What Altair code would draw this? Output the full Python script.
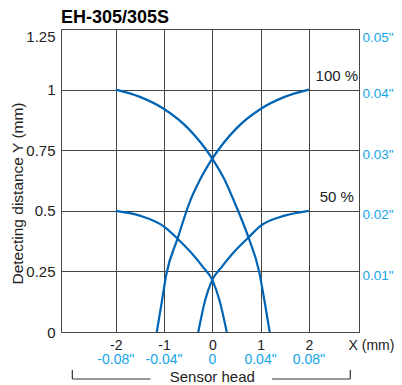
import altair as alt
import pandas as pd

# ---------------- data (mm) ----------------
# 100 % curves
d100_x = [-2.0, -1.5, -1.0, -0.5, 0.0, 0.25, 0.45, 0.75, 0.97, 1.08, 1.19]
d100_y = [1.0, 0.97, 0.92, 0.84, 0.715, 0.63, 0.54, 0.39, 0.25, 0.13, 0.0]
a100_x = [-1.15, -1.05, -0.95, -0.72, -0.46, -0.25, 0.0, 0.5, 1.0, 1.5, 2.0]
a100_y = [0.0, 0.12, 0.24, 0.385, 0.54, 0.63, 0.715, 0.84, 0.92, 0.97, 1.0]
# 50 % curves
d50_x = [-2.0, -1.5, -1.0, -0.72, -0.45, -0.2, 0.0, 0.15, 0.3]
d50_y = [0.5, 0.48, 0.435, 0.385, 0.33, 0.27, 0.215, 0.13, 0.0]
a50_x = [-0.29, -0.15, 0.0, 0.2, 0.45, 0.75, 1.0, 1.5, 2.0]
a50_y = [0.0, 0.13, 0.215, 0.27, 0.33, 0.39, 0.438, 0.48, 0.5]

# curve end labels (anchored at curve end points)
lab_text = ["100 %", "50 %"]
lab_x = [2.0, 2.0]
lab_y = [1.0, 0.5]

# ticks and tick labels
x_ticks = [-2, -1, 0, 1, 2]
x_inch = ['-0.08"', '-0.04"', '0', '0.04"', '0.08"']
y_ticks = [0, 0.25, 0.5, 0.75, 1, 1.25]
y_inch_ticks = [0.25, 0.5, 0.75, 1.0, 1.25]
y_inch = ['0.01"', '0.02"', '0.03"', '0.04"', '0.05"']

# sensor head bracket (x extents in mm)
bracket_start = [-2.9, 1.24]
bracket_end = [-1.28, 2.86]
bracket_ends = [-2.9, 2.86]

# ---------------- tables ----------------
rows = []
for name, xs, ys in [("d100", d100_x, d100_y), ("a100", a100_x, a100_y),
                     ("d50", d50_x, d50_y), ("a50", a50_x, a50_y)]:
    for xv, yv in zip(xs, ys):
        rows.append({"curve": name, "x": xv, "y": yv})
curves = pd.DataFrame(rows)
labels = pd.DataFrame({"x": lab_x, "y": lab_y, "t": lab_text})
inch_x = pd.DataFrame({"x": x_ticks, "t": x_inch})
br_h = pd.DataFrame({"x": bracket_start, "x2": bracket_end})
br_v = pd.DataFrame({"x": bracket_ends})
sensor = pd.DataFrame({"x": [0], "t": ["Sensor head"]})

BLUE = "#0064b4"
CYAN = "#14a5e8"
TXT = "#222222"
GRID = "#444444"
FS = 14

right_expr = "''"
for v, t in reversed(list(zip(y_inch_ticks, y_inch))):
    right_expr = f"datum.value == {v} ? '{t}' : ({right_expr})"

x_axis = alt.Axis(values=x_ticks, labelExpr="'' + datum.value", grid=True,
                  ticks=False, domain=False, labelPadding=6, labelFontSize=FS,
                  labelColor=TXT, gridColor=GRID, title="X (mm)", titleX=287,
                  titleY=13, titleAlign="left", titleBaseline="middle",
                  titleFontSize=FS, titleFontWeight="normal", titleColor=TXT)
x_scale = alt.Scale(domain=[-3.135, 3.04], nice=False, zero=False)
y_scale = alt.Scale(domain=[0, 1.25], nice=False, zero=False)

y_axis = alt.Axis(values=y_ticks, labelExpr="'' + datum.value", grid=True,
                  ticks=False, domain=False, labelPadding=6,
                  labelOffset={"condition": {"test": "datum.value == 1.25", "value": 7}, "value": 0},
                  labelFontSize=15, labelColor=TXT, gridColor=GRID,
                  title="Detecting distance Y (mm)", titleFontSize=15.5,
                  titleFontWeight="normal", titleColor=TXT,
                  titleX=-39, titleY=164, titleBaseline="alphabetic")

X = alt.X("x:Q", scale=x_scale, axis=x_axis)
Y = alt.Y("y:Q", scale=y_scale, axis=y_axis)

lines = alt.Chart(curves).mark_line(color=BLUE, strokeWidth=2.2, interpolate="monotone").encode(
    x=X, y=Y, detail="curve:N")

curve_labels = alt.Chart(labels).mark_text(fontSize=15, color=TXT, dx=28, dy=-13.5).encode(
    x=X, y=Y, text="t:N")

inch_labels = alt.Chart(inch_x).mark_text(fontSize=FS, color=CYAN, baseline="middle").encode(
    x=X, y=alt.value(331), text="t:N")

bracket_h = alt.Chart(br_h).mark_rule(color="#333", strokeWidth=1.2).encode(
    x=X, x2="x2:Q", y=alt.value(350))
bracket_v = alt.Chart(br_v).mark_rule(color="#333", strokeWidth=1.2).encode(
    x=X, y=alt.value(341), y2=alt.value(350))
sensor_text = alt.Chart(sensor).mark_text(fontSize=15, color=TXT, baseline="middle").encode(
    x=X, y=alt.value(347.5), text="t:N")

inner = alt.layer(lines, curve_labels, inch_labels, bracket_h, bracket_v, sensor_text)

right_axis = alt.Chart(curves).mark_line(opacity=0).encode(
    x=X,
    y=alt.Y("y:Q", scale=y_scale,
            axis=alt.Axis(orient="right", values=y_inch_ticks, labelExpr=right_expr,
                          grid=False, ticks=False, domain=False, labelPadding=3,
                          labelOffset={"condition": {"test": "datum.value == 1.25", "value": 8}, "value": 4},
                          labelFontSize=13.5, labelColor=CYAN, title=None)),
    detail="curve:N")

chart = alt.layer(inner, right_axis).resolve_scale(y="independent").properties(
    width=298, height=303,
    autosize=alt.AutoSizeParams(type="none"),
    padding={"left": 53, "top": 21, "right": 35, "bottom": 53},
    title=alt.TitleParams("EH-305/305S", anchor="start", frame="group", fontSize=18,
                          fontWeight="bold", color="black", offset=2),
).configure(font="Liberation Sans").configure_view(stroke=GRID, strokeWidth=1)

chart.save("out.html", embed_options={"renderer": "svg", "actions": False})
